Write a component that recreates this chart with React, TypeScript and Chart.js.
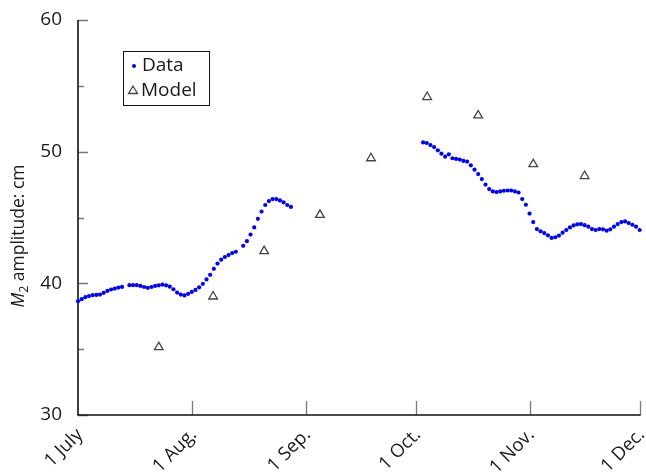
import React, { useEffect, useRef } from 'react';
import { Chart, registerables } from 'chart.js';

Chart.register(...registerables);

// X axis: days since 1 July
const tickDays = [0, 31, 62, 92, 123, 153];
const tickLabels = ['1 July', '1 Aug.', '1 Sep.', '1 Oct.', '1 Nov.', '1 Dec.'];
const yMajorTicks = [30, 40, 50, 60];
const yMinorTicks = [35, 45, 55];

// Observed M2 amplitude (cm), daily, first record starting 1 July
const dataStart1 = 0;
const dataValues1 = [
  38.64, 38.8, 38.95, 39.03, 39.1, 39.12, 39.15, 39.28, 39.42, 39.53, 39.6, 39.68, 39.73, null,
  39.86, 39.86, 39.86, 39.8, 39.72, 39.66, 39.72, 39.8, 39.85, 39.9, 39.85, 39.75, 39.55, 39.3,
  39.15, 39.08, 39.2, 39.35, 39.5, 39.7, 39.96, 40.3, 40.65, 41.1, 41.5, 41.8, 42.0, 42.15, 42.3,
  42.4, null, 42.85, 43.2, 43.7, 44.25, 44.9, 45.45, 45.95, 46.25, 46.4, 46.4, 46.3, 46.15, 45.95,
  45.8,
];
// Second record starting 3 Oct
const dataStart2 = 94;
const dataValues2 = [
  50.7, 50.66, 50.5, 50.35, 50.1, 49.85, 49.62, 49.8, 49.5, 49.45, 49.4, 49.3, 49.25, 48.96,
  48.63, 48.3, 47.92, 47.5, 47.16, 46.98, 46.93, 46.98, 47.03, 47.05, 47.05, 46.98, 46.9, 46.4,
  45.97, 45.3, 44.65, 44.12, 43.95, 43.82, 43.65, 43.45, 43.5, 43.63, 43.85, 44.05, 44.25, 44.4,
  44.48, 44.5, 44.42, 44.3, 44.12, 44.05, 44.12, 44.1, 44.0, 44.1, 44.3, 44.5, 44.65, 44.7,
  44.58, 44.45, 44.3, 44.05,
];

// Model values
const modelDays = [22, 36.8, 50.7, 65.9, 79.8, 95.1, 109, 124, 138];
const modelValues = [35.15, 39.0, 42.45, 45.2, 49.5, 54.15, 52.75, 49.05, 48.15];

const FONT = '"Open Sans", "DejaVu Sans", sans-serif';
const TEXT = '#1a1a1a';

function toPoints(start: number, values: (number | null)[]) {
  const pts: { x: number; y: number }[] = [];
  values.forEach((v, i) => {
    if (v !== null) pts.push({ x: start + i, y: v });
  });
  return pts;
}

const decorPlugin = {
  id: 'decor',
  beforeDatasetsDraw(chart: any) {
    const { ctx, chartArea, scales } = chart;
    const { left, right, top, bottom } = chartArea;
    const x = scales.x;
    const y = scales.y;
    ctx.save();
    ctx.strokeStyle = '#7a7a7a';
    ctx.lineWidth = 1.3;
    ctx.beginPath();
    yMajorTicks.forEach((v) => {
      const py = Math.round(y.getPixelForValue(v)) + 0.5;
      ctx.moveTo(left, py);
      ctx.lineTo(left + 10, py);
    });
    yMinorTicks.forEach((v) => {
      const py = Math.round(y.getPixelForValue(v)) + 0.5;
      ctx.moveTo(left, py);
      ctx.lineTo(left + 6, py);
    });
    tickDays.slice(1).forEach((d) => {
      const px = Math.round(x.getPixelForValue(d)) + 0.5;
      ctx.moveTo(px, bottom);
      ctx.lineTo(px, bottom - 14);
    });
    ctx.stroke();
    ctx.strokeStyle = '#111';
    ctx.lineWidth = 1.6;
    ctx.beginPath();
    ctx.moveTo(left, top);
    ctx.lineTo(left, bottom);
    ctx.lineTo(right + 1, bottom);
    ctx.stroke();
    ctx.restore();
  },
  afterDraw(chart: any) {
    const { ctx } = chart;
    ctx.save();
    // Y axis title
    ctx.translate(19, 236);
    ctx.rotate(-Math.PI / 2);
    ctx.fillStyle = TEXT;
    ctx.textBaseline = 'middle';
    const fItalic = 'italic 17.5px ' + FONT;
    const fSub = '12.5px ' + FONT;
    const fNorm = '17.5px ' + FONT;
    ctx.font = fItalic;
    const wM = ctx.measureText('M').width;
    ctx.font = fSub;
    const w2 = ctx.measureText('2').width;
    ctx.font = fNorm;
    const rest = ' amplitude: cm';
    const wR = ctx.measureText(rest).width;
    let xx = -(wM + w2 + wR) / 2;
    ctx.textAlign = 'left';
    ctx.font = fItalic;
    ctx.fillText('M', xx, 0);
    xx += wM;
    ctx.font = fSub;
    ctx.fillText('2', xx, 5);
    xx += w2;
    ctx.font = fNorm;
    ctx.fillText(rest, xx, 0);
    ctx.restore();

    // Legend
    ctx.save();
    ctx.strokeStyle = '#111';
    ctx.lineWidth = 1;
    ctx.strokeRect(123.5, 51.5, 86, 54);
    ctx.fillStyle = '#0000ff';
    ctx.beginPath();
    ctx.arc(134, 66, 2, 0, Math.PI * 2);
    ctx.fill();
    ctx.strokeStyle = '#444';
    ctx.lineWidth = 1.3;
    ctx.beginPath();
    ctx.moveTo(133, 86);
    ctx.lineTo(137.5, 93.5);
    ctx.lineTo(128.5, 93.5);
    ctx.closePath();
    ctx.stroke();
    ctx.fillStyle = TEXT;
    ctx.font = '19px ' + FONT;
    ctx.textBaseline = 'middle';
    ctx.textAlign = 'left';
    ctx.fillText('Data', 142, 66);
    ctx.fillText('Model', 141, 91);
    ctx.restore();
  },
};

export default function App() {
  const canvasRef = useRef<HTMLCanvasElement | null>(null);

  useEffect(() => {
    const canvas = canvasRef.current;
    if (!canvas) return;
    const chart = new Chart(canvas, {
      type: 'scatter',
      data: {
        datasets: [
          {
            label: 'Data',
            data: [...toPoints(dataStart1, dataValues1), ...toPoints(dataStart2, dataValues2)],
            backgroundColor: '#0000ff',
            borderColor: '#0000ff',
            borderWidth: 0,
            pointRadius: 2.1,
            pointStyle: 'circle',
            clip: false,
          } as any,
          {
            label: 'Model',
            data: modelDays.map((d, i) => ({ x: d, y: modelValues[i] })),
            backgroundColor: 'rgba(255,255,255,0)',
            borderColor: '#444',
            borderWidth: 1.3,
            pointRadius: 5,
            pointStyle: 'triangle',
            clip: false,
          } as any,
        ],
      },
      options: {
        animation: false,
        responsive: false,
        devicePixelRatio: 1,
        layout: { padding: { top: 20, right: 6, left: 0, bottom: 0 } },
        plugins: {
          legend: { display: false },
          tooltip: { enabled: false },
          title: { display: false },
        },
        scales: {
          x: {
            type: 'linear',
            min: 0,
            max: 153,
            grid: { display: false },
            border: { display: false },
            afterBuildTicks: (s: any) => {
              s.ticks = tickDays.map((v) => ({ value: v }));
            },
            afterFit: (s: any) => {
              s.height = 58;
              s.paddingLeft = 0;
              s.paddingRight = 0;
            },
            ticks: {
              autoSkip: false,
              minRotation: 45,
              maxRotation: 45,
              padding: 1,
              labelOffset: 2,
              color: TEXT,
              font: { family: FONT, size: 18.5 },
              callback: (v: any) => {
                const i = tickDays.indexOf(Number(v));
                return i >= 0 ? tickLabels[i] : '';
              },
            },
          },
          y: {
            type: 'linear',
            min: 30,
            max: 60,
            grid: { display: false },
            border: { display: false },
            afterBuildTicks: (s: any) => {
              s.ticks = yMajorTicks.map((v) => ({ value: v }));
            },
            afterFit: (s: any) => {
              s.width = 78;
              s.paddingTop = 0;
              s.paddingBottom = 0;
            },
            ticks: {
              padding: 8,
              color: TEXT,
              font: { family: FONT, size: 19 },
            },
          },
        },
      } as any,
      plugins: [decorPlugin],
    });
    return () => chart.destroy();
  }, []);

  return (
    <div style={{ position: 'fixed', left: 0, top: 0, width: 646, height: 473, background: '#fff' }}>
      <canvas ref={canvasRef} width={646} height={473} style={{ display: 'block' }} />
    </div>
  );
}
